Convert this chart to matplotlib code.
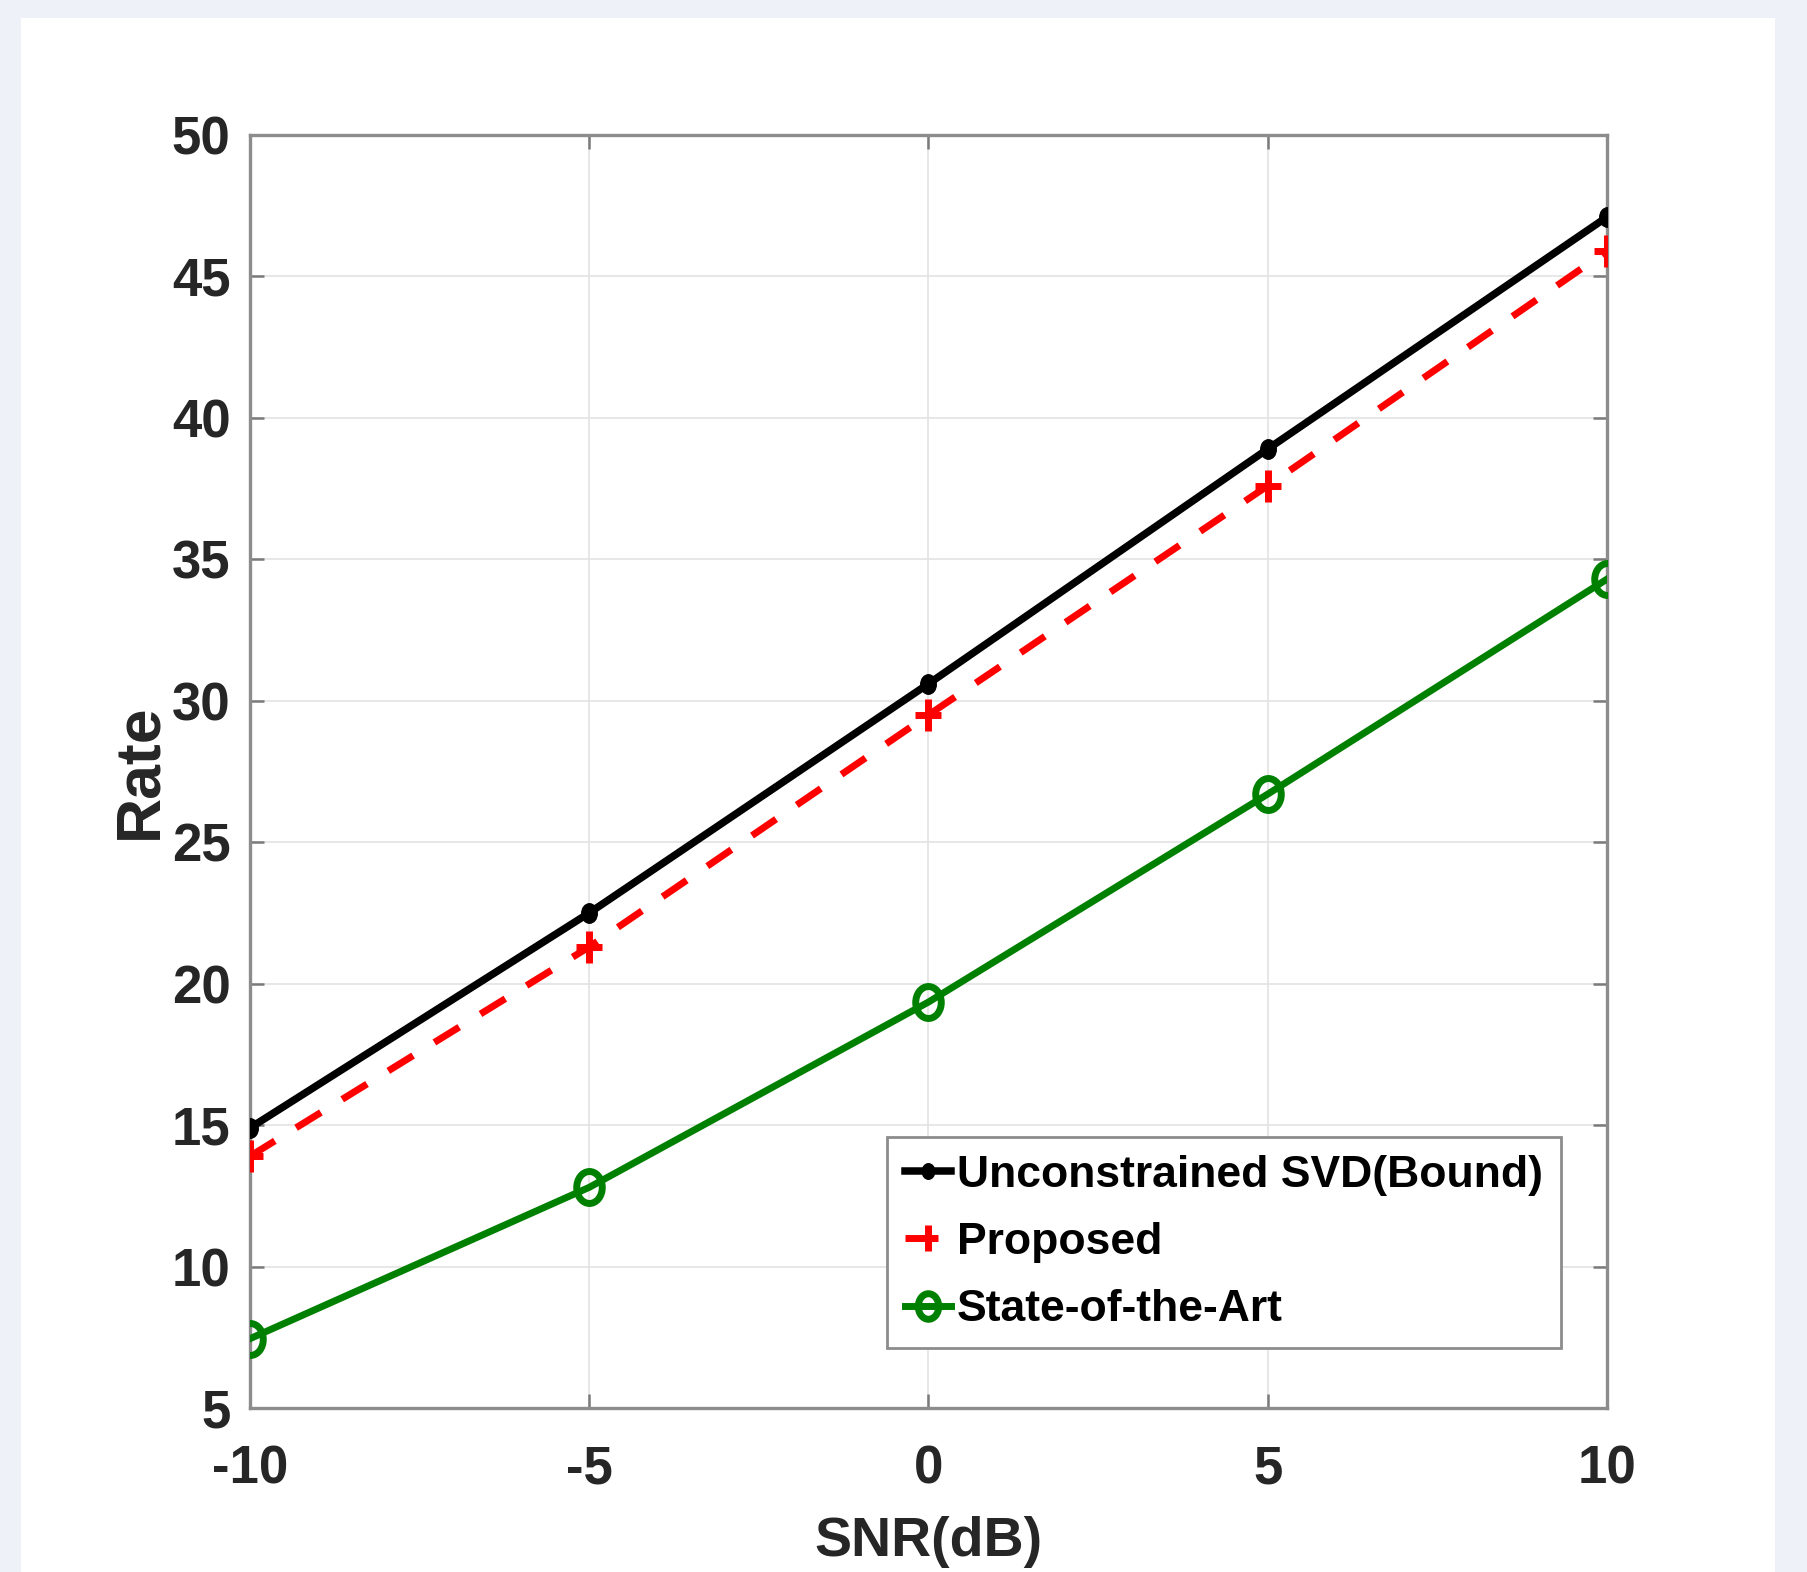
import matplotlib
matplotlib.use('Agg')
import matplotlib.pyplot as plt
from matplotlib.patches import Rectangle
from matplotlib.markers import MarkerStyle
from matplotlib.transforms import Affine2D

snr = [-10, -5, 0, 5, 10]
rate_svd = [14.9, 22.5, 30.6, 38.9, 47.1]
rate_proposed = [13.9, 21.3, 29.5, 37.6, 45.9]
rate_sota = [7.45, 12.8, 19.35, 26.7, 34.3]

x_ticks = [-10, -5, 0, 5, 10]
y_ticks = [5, 10, 15, 20, 25, 30, 35, 40, 45, 50]

plt.rcParams['font.family'] = ['Liberation Sans', 'DejaVu Sans']
plt.rcParams['font.weight'] = 'bold'
plt.rcParams['axes.unicode_minus'] = False

fig = plt.figure(figsize=(18.08, 15.72), dpi=100)
fig.patch.set_facecolor('#eef2f8')
fig.add_artist(Rectangle((21 / 1808, 0), (1775 - 21) / 1808, (1572 - 18) / 1572,
                         transform=fig.transFigure, facecolor='white',
                         edgecolor='none', zorder=-5))

ax = fig.add_axes([0.13827, 0.10433, 0.75055, 0.80980])
ax.set_facecolor('white')

# the source picture is squeezed sideways, so markers are a bit narrow
squeeze = Affine2D().scale(0.8, 1.0)
dot = MarkerStyle('o', transform=squeeze)
plus = MarkerStyle('+', transform=squeeze)
ring = MarkerStyle('o', fillstyle='none', transform=squeeze)

ax.plot(snr, rate_svd, color='black', lw=5.4, marker=dot, ms=14,
        mfc='black', mec='black', label='Unconstrained SVD(Bound)', zorder=3)
ax.plot(snr, rate_proposed, color='red', lw=5.0, dashes=(4.2, 3.6), marker=plus,
        ms=23, mew=5, label='Proposed', zorder=3)
ax.plot(snr, rate_sota, color='green', lw=5.0, marker=ring, ms=23, mew=5,
        mec='green', label='State-of-the-Art', zorder=3)

ax.set_xlim(-10, 10)
ax.set_ylim(5, 50)
ax.set_xticks(x_ticks)
ax.set_yticks(y_ticks)
ax.grid(True, color='#e3e3e3', lw=1.2)
ax.set_axisbelow(True)

for s in ax.spines.values():
    s.set_color('#8c8c8c')
    s.set_linewidth(2.4)

ax.tick_params(direction='in', length=10, width=1.8, color='#7a7a7a',
               top=True, right=True, labelsize=38, labelcolor='#262626')
ax.tick_params(axis='x', pad=26)
ax.tick_params(axis='y', pad=14)
for lab in ax.get_xticklabels() + ax.get_yticklabels():
    lab.set_fontweight('bold')

ax.set_xlabel('SNR(dB)', fontsize=40, fontweight='bold', color='#262626',
              labelpad=16)
ax.set_ylabel('Rate', fontsize=45, fontweight='bold', color='#262626',
              labelpad=2)

leg = ax.legend(loc='lower left', bbox_to_anchor=(0.4694, 0.0471),
                borderaxespad=0, fontsize=32, handlelength=1.05,
                handletextpad=0.12, borderpad=0.4, labelspacing=0.59,
                markerscale=0.8, fancybox=False, framealpha=1,
                edgecolor='#8c8c8c')
leg.get_frame().set_linewidth(2.0)
for t in leg.get_texts():
    t.set_fontweight('bold')

fig.savefig('out.png', dpi=100, facecolor=fig.get_facecolor())
